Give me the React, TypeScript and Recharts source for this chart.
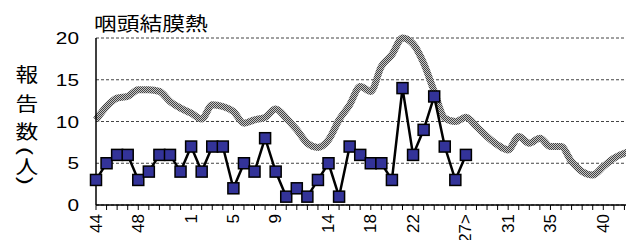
import {CartesianGrid, Line, LineChart, XAxis, YAxis} from 'recharts';

const weeks = [
    '44', '45', '46', '47', '48', '49', '50', '51', '52',
    '1', '2', '3', '4', '5', '6', '7', '8', '9', '10', '11', '12', '13', '14', '15', '16', '17', '18', '19', '20',
    '21', '22', '23', '24', '25', '26', '27', '28', '29', '30', '31', '32', '33', '34', '35', '36', '37', '38', '39',
    '40', '41', '42', '43',
];

// this season's reports (up to week 27)
const reports = [3, 5, 6, 6, 3, 4, 6, 6, 4, 7, 4, 7, 7, 2, 5, 4, 8, 4, 1, 2, 1, 3, 5, 1, 7, 6, 5, 5, 3, 14, 6, 9, 13, 7, 3, 6];

// past years average
const pastAverage = [
    10.2, 11.8, 12.8, 13.0, 13.8, 13.8, 13.6, 12.4, 11.6, 11.0,
    10.3, 12.0, 11.8, 11.2, 9.8, 10.2, 10.5, 11.5, 10.4, 9.0,
    7.4, 6.9, 7.8, 10.2, 12.0, 14.2, 13.6, 16.6, 18.0, 20.0,
    19.3, 17.0, 13.6, 10.4, 10.0, 10.5, 9.4, 8.2, 7.2, 6.6,
    8.2, 7.4, 8.0, 7.0, 7.0, 5.2, 4.0, 3.6, 4.6, 5.6,
    6.2, 6.5,
];

const labeledWeeks = ['44', '48', '1', '5', '9', '14', '18', '22', '27', '31', '35', '40'];
const weekLabels = ['44', '48', '1', '5', '9', '14', '18', '22', '<27>', '31', '35', '40'];
const yTicks = [0, 5, 10, 15, 20];

const title = '咽頭結膜熱';
const yLabelChars = ['報', '告', '数', '(', '人', ')'];
const yLabelCenters = [73.5, 102.5, 131, 151, 165.5, 181];

const data = weeks.map((week, i) => ({
    week,
    reports: i < reports.length ? reports[i] : null,
    avg: pastAverage[i],
}));

const numFont = "'Liberation Sans', Arial, sans-serif";
const cjkFont = "'Noto Sans CJK JP', sans-serif";

function WeekTick({x, y, payload}: any) {
    const idx = labeledWeeks.indexOf(payload.value);
    if (idx < 0) return null;
    return (
        <text transform={`translate(${x},${y}) rotate(-90)`} textAnchor="end" dominantBaseline="central"
              fontSize={17} fontFamily={numFont} fill="#000">
            {weekLabels[idx]}
        </text>
    );
}

function ValueTick({x, y, payload}: any) {
    return (
        <text transform={`translate(${x},${y}) scale(1.3,1)`} textAnchor="end" dy={6}
              fontSize={16} fontFamily={numFont} fill="#000">
            {payload.value}
        </text>
    );
}

const renderSquare = (props: any) => {
    const {cx, cy, index} = props;
    if (cx == null || cy == null || props.value == null) return <g key={`sq-${index}`}/>;
    return <rect key={`sq-${index}`} x={cx - 5.5} y={cy - 5.5} width={11} height={11}
                 fill="#333399" stroke="#000" strokeWidth={1.5}/>;
};

export default function App() {
    return (
        <div style={{position: 'absolute', left: 0, top: 0, width: 626, height: 240, overflow: 'hidden', background: '#fff'}}>
            <LineChart width={640} height={240} data={data} margin={{top: 38, right: 5, left: 36, bottom: 0}}>
                <defs>
                    <pattern id="chk" width={2} height={2} patternUnits="userSpaceOnUse">
                        <rect x={0} y={0} width={2} height={2} fill="#c8c8c8"/>
                        <rect x={0} y={0} width={1} height={1} fill="#444"/>
                        <rect x={1} y={1} width={1} height={1} fill="#444"/>
                    </pattern>
                </defs>
                <CartesianGrid vertical={false} stroke="#444" strokeDasharray="3 2"/>
                <XAxis dataKey="week" interval={0} height={35} tick={<WeekTick/>} tickSize={5} tickMargin={4}
                       axisLine={{stroke: '#000', strokeWidth: 1.5}} tickLine={{stroke: '#000'}}/>
                <YAxis domain={[0, 20]} ticks={yTicks} width={60} tick={<ValueTick/>} tickSize={0} tickMargin={17}
                       tickLine={false} axisLine={{stroke: '#000', strokeWidth: 1.5}}/>
                <Line type="monotone" dataKey="avg" stroke="url(#chk)" strokeWidth={7} dot={false}
                      activeDot={false} isAnimationActive={false}/>
                <Line type="linear" dataKey="reports" stroke="#000" strokeWidth={2.5} dot={renderSquare}
                      activeDot={false} isAnimationActive={false}/>
            </LineChart>
            <svg width={626} height={240} style={{position: 'absolute', left: 0, top: 0, pointerEvents: 'none'}}>
                <text transform="translate(94,22.5) scale(1.2,1)" dominantBaseline="central" fontSize={19}
                      fontFamily={cjkFont} fill="#000">{title}</text>
                {yLabelChars.map((c, i) => {
                    const paren = c === '(' || c === ')';
                    return (
                        <text key={i}
                              transform={paren
                                  ? `translate(27,${yLabelCenters[i]}) rotate(90) scale(1.8,1)`
                                  : `translate(27,${yLabelCenters[i]}) scale(1.2,1)`}
                              textAnchor="middle" dominantBaseline="central" fontSize={paren ? 17 : 19}
                              fontFamily={cjkFont} fill="#000">{c}</text>
                    );
                })}
            </svg>
        </div>
    );
}
